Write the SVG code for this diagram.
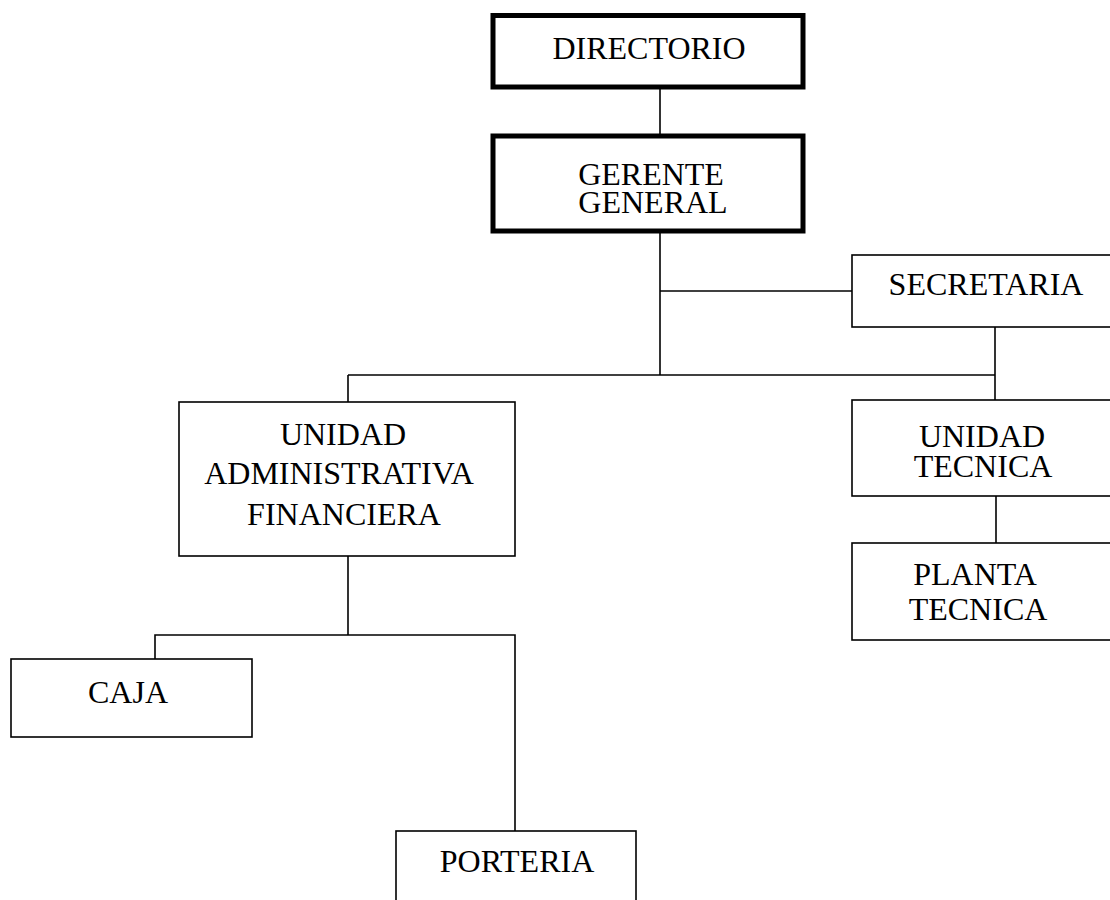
<svg xmlns="http://www.w3.org/2000/svg" width="1110" height="900" viewBox="0 0 1110 900">
<style>
.box{fill:#fff;stroke:#000;stroke-width:1.6}
.thick{fill:#fff;stroke:#000;stroke-width:5}
.t{font-family:"Liberation Serif","Times New Roman",serif;font-size:32px;fill:#000;text-anchor:middle}
.c{fill:none;stroke:#000;stroke-width:1.6}
</style>
<rect width="1110" height="900" fill="#fff"/>
<g id="connectors">
<path class="c" d="M660,89 V136"/>
<path class="c" d="M660,231 V375"/>
<path class="c" d="M660,291 H852"/>
<path class="c" d="M995,323 V400"/>
<path class="c" d="M348,375 H995"/>
<path class="c" d="M348,375 V402"/>
<path class="c" d="M996,496 V543"/>
<path class="c" d="M348,556 V635"/>
<path class="c" d="M155,659 V635 H515 V831"/>
</g>
<g id="directorio">
<rect class="thick" x="493" y="15.5" width="310" height="71.5"/>
<text class="t" x="649" y="59">DIRECTORIO</text>
</g>
<g id="gerente">
<rect class="thick" x="493" y="136" width="310" height="95"/>
<text class="t" x="651" y="185">GERENTE</text>
<text class="t" x="653" y="213">GENERAL</text>
</g>
<g id="secretaria">
<rect class="box" x="852" y="255" width="300" height="72"/>
<text class="t" x="986" y="295">SECRETARIA</text>
</g>
<g id="uaf">
<rect class="box" x="179" y="402" width="336" height="154"/>
<text class="t" x="343" y="445">UNIDAD</text>
<text class="t" x="339" y="484">ADMINISTRATIVA</text>
<text class="t" x="344" y="525">FINANCIERA</text>
</g>
<g id="unidad-tecnica">
<rect class="box" x="852" y="400" width="300" height="96"/>
<text class="t" x="982" y="447">UNIDAD</text>
<text class="t" x="983" y="477">TECNICA</text>
</g>
<g id="planta-tecnica">
<rect class="box" x="852" y="543" width="300" height="97"/>
<text class="t" x="975" y="585">PLANTA</text>
<text class="t" x="978" y="620">TECNICA</text>
</g>
<g id="caja">
<rect class="box" x="11" y="659" width="241" height="78"/>
<text class="t" x="128" y="703">CAJA</text>
</g>
<g id="porteria">
<rect class="box" x="396" y="831" width="240" height="100"/>
<text class="t" x="517" y="872">PORTERIA</text>
</g>
</svg>
